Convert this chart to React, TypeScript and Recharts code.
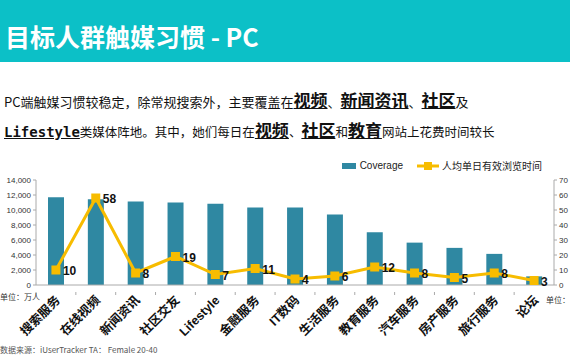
import React from 'react';
import {
  ComposedChart,
  Bar,
  Line,
  XAxis,
  YAxis,
  Legend,
  LabelList,
} from 'recharts';

const categories = ['搜索服务', '在线视频', '新闻资讯', '社区交友', 'Lifestyle', '金融服务', 'IT数码', '生活服务', '教育服务', '汽车服务', '房产服务', '旅行服务', '论坛'];
const coverage = [11700, 11450, 11150, 11000, 10850, 10350, 10350, 9400, 7050, 5650, 4950, 4150, 1150];
const dailyTime = [10, 58, 8, 19, 7, 11, 4, 6, 12, 8, 5, 8, 3];
const leftTicks = [0, 2000, 4000, 6000, 8000, 10000, 12000, 14000];
const rightTicks = [0, 10, 20, 30, 40, 50, 60, 70];

const BAR_COLOR = '#2F88A2';
const LINE_COLOR = '#F7BC00';
const HEADER_COLOR = '#0CC0C7';
const CJK = '"Noto Sans CJK SC", "Liberation Sans", sans-serif';
const ARIAL = '"Liberation Sans", Arial, "Noto Sans CJK SC", sans-serif';

const data = categories.map((name, i) => ({
  name,
  coverage: coverage[i],
  time: dailyTime[i],
}));

const BAND = (554 - 36) / categories.length;

const CategoryTick = (props: any) => {
  const { x, y, payload } = props;
  const ax = x + 5;
  const ay = y + 8;
  return (
    <g>
      <line x1={x - BAND / 2} x2={x - BAND / 2} y1={y - 1} y2={y + 2} stroke="#aaa" />
      <text
        x={ax}
        y={ay}
        transform={`rotate(-45, ${ax}, ${ay})`}
        textAnchor="end"
        fontSize={12.5}
        fontWeight="bold"
        fill="#111"
        fontFamily={ARIAL}
      >
        {payload.value}
      </text>
    </g>
  );
};

const SquareDot = (props: any) => {
  const { cx, cy } = props;
  if (cx == null || cy == null) return null;
  return <rect x={cx - 4.5} y={cy - 4.5} width={9} height={9} fill={LINE_COLOR} />;
};

const TimeLabel = (props: any) => {
  const { x, y, value } = props;
  return (
    <text x={x + 7} y={y + 5} fontSize={12} fontWeight="bold" fill="#111" fontFamily={ARIAL}>
      {value}
    </text>
  );
};

const LegendContent = () => (
  <div style={{ display: 'flex', alignItems: 'center', fontSize: 10, color: '#222', fontFamily: ARIAL }}>
    <span style={{ display: 'inline-block', width: 14, height: 6, background: BAR_COLOR, marginRight: 4 }} />
    <span style={{ marginRight: 14 }}>Coverage</span>
    <svg width={22} height={10} style={{ marginRight: 3 }}>
      <line x1={0} x2={22} y1={5} y2={5} stroke={LINE_COLOR} strokeWidth={3} />
      <rect x={7} y={1} width={8} height={8} fill={LINE_COLOR} />
    </svg>
    <span style={{ fontFamily: CJK }}>人均单日有效浏览时间</span>
  </div>
);

const B = ({ children }: { children: React.ReactNode }) => (
  <span style={{ fontWeight: 'bold', fontSize: 17, textDecoration: 'underline' }}>{children}</span>
);

export default function App() {
  return (
    <div style={{ position: 'fixed', left: 0, top: 0, width: 570, height: 360, background: '#fff', overflow: 'hidden', fontFamily: CJK }}>
      <div style={{ position: 'absolute', left: 0, top: 0, width: 570, height: 62, background: HEADER_COLOR }} />
      <div style={{ position: 'absolute', left: 5, top: 18, color: '#fff', fontSize: 25, fontWeight: 'bold', lineHeight: '36px', whiteSpace: 'nowrap' }}>
        目标人群触媒习惯 - PC
      </div>
      <div style={{ position: 'absolute', left: 4, top: 88, fontSize: 13, color: '#111', lineHeight: '24px', whiteSpace: 'nowrap' }}>
        PC端触媒习惯较稳定，除常规搜索外，主要覆盖在<B>视频</B>、<B>新闻资讯</B>、<B>社区</B>及
      </div>
      <div style={{ position: 'absolute', left: 4, top: 118, fontSize: 12.5, color: '#111', lineHeight: '24px', whiteSpace: 'nowrap' }}>
        <span style={{ fontWeight: 'bold', fontSize: 14, textDecoration: 'underline', fontFamily: '"DejaVu Sans Mono", monospace' }}>Lifestyle</span>
        类媒体阵地。其中，她们每日在<B>视频</B>、<B>社区</B>和<B>教育</B>网站上花费时间较长
      </div>

      <div style={{ position: 'absolute', left: 0, top: 150 }}>
        <ComposedChart width={570} height={205} data={data} margin={{ top: 15, right: 0, left: 0, bottom: 20 }} barCategoryGap={0}>
          <XAxis
            dataKey="name"
            interval={0}
            height={50}
            tick={<CategoryTick />}
            tickLine={false}
            axisLine={{ stroke: '#aaa' }}
          />
          <YAxis
            yAxisId="left"
            width={36}
            domain={[0, 14000]}
            ticks={leftTicks}
            tickFormatter={(v: number) => v.toLocaleString('en-US')}
            tick={{ fontSize: 8, fill: '#333', fontFamily: ARIAL }}
            tickSize={3}
            tickLine={{ stroke: '#aaa' }}
            axisLine={{ stroke: '#aaa' }}
          />
          <YAxis
            yAxisId="right"
            orientation="right"
            width={16}
            domain={[0, 70]}
            ticks={rightTicks}
            tick={{ fontSize: 8, fill: '#333', fontFamily: ARIAL, textAnchor: 'start' }}
            tickSize={3}
            tickLine={{ stroke: '#aaa' }}
            axisLine={{ stroke: '#aaa' }}
          />
          <Legend verticalAlign="top" align="right" content={<LegendContent />} wrapperStyle={{ top: 8, right: 28, width: 'auto', left: 'auto' }} />
          <Bar yAxisId="left" dataKey="coverage" fill={BAR_COLOR} barSize={16} isAnimationActive={false} />
          <Line
            yAxisId="right"
            dataKey="time"
            stroke={LINE_COLOR}
            strokeWidth={3}
            dot={<SquareDot />}
            activeDot={false}
            isAnimationActive={false}
          >
            <LabelList dataKey="time" content={<TimeLabel />} />
          </Line>
        </ComposedChart>
      </div>

      <div style={{ position: 'absolute', left: 0, top: 291, fontSize: 8, color: '#333', whiteSpace: 'nowrap' }}>单位：万人</div>
      <div style={{ position: 'absolute', left: 546, top: 294, fontSize: 8, color: '#333', whiteSpace: 'nowrap' }}>单位：</div>
      <div style={{ position: 'absolute', left: 0, top: 344, fontSize: 8, color: '#555', whiteSpace: 'nowrap' }}>数据来源：iUserTracker TA： Female 20-40</div>
    </div>
  );
}
